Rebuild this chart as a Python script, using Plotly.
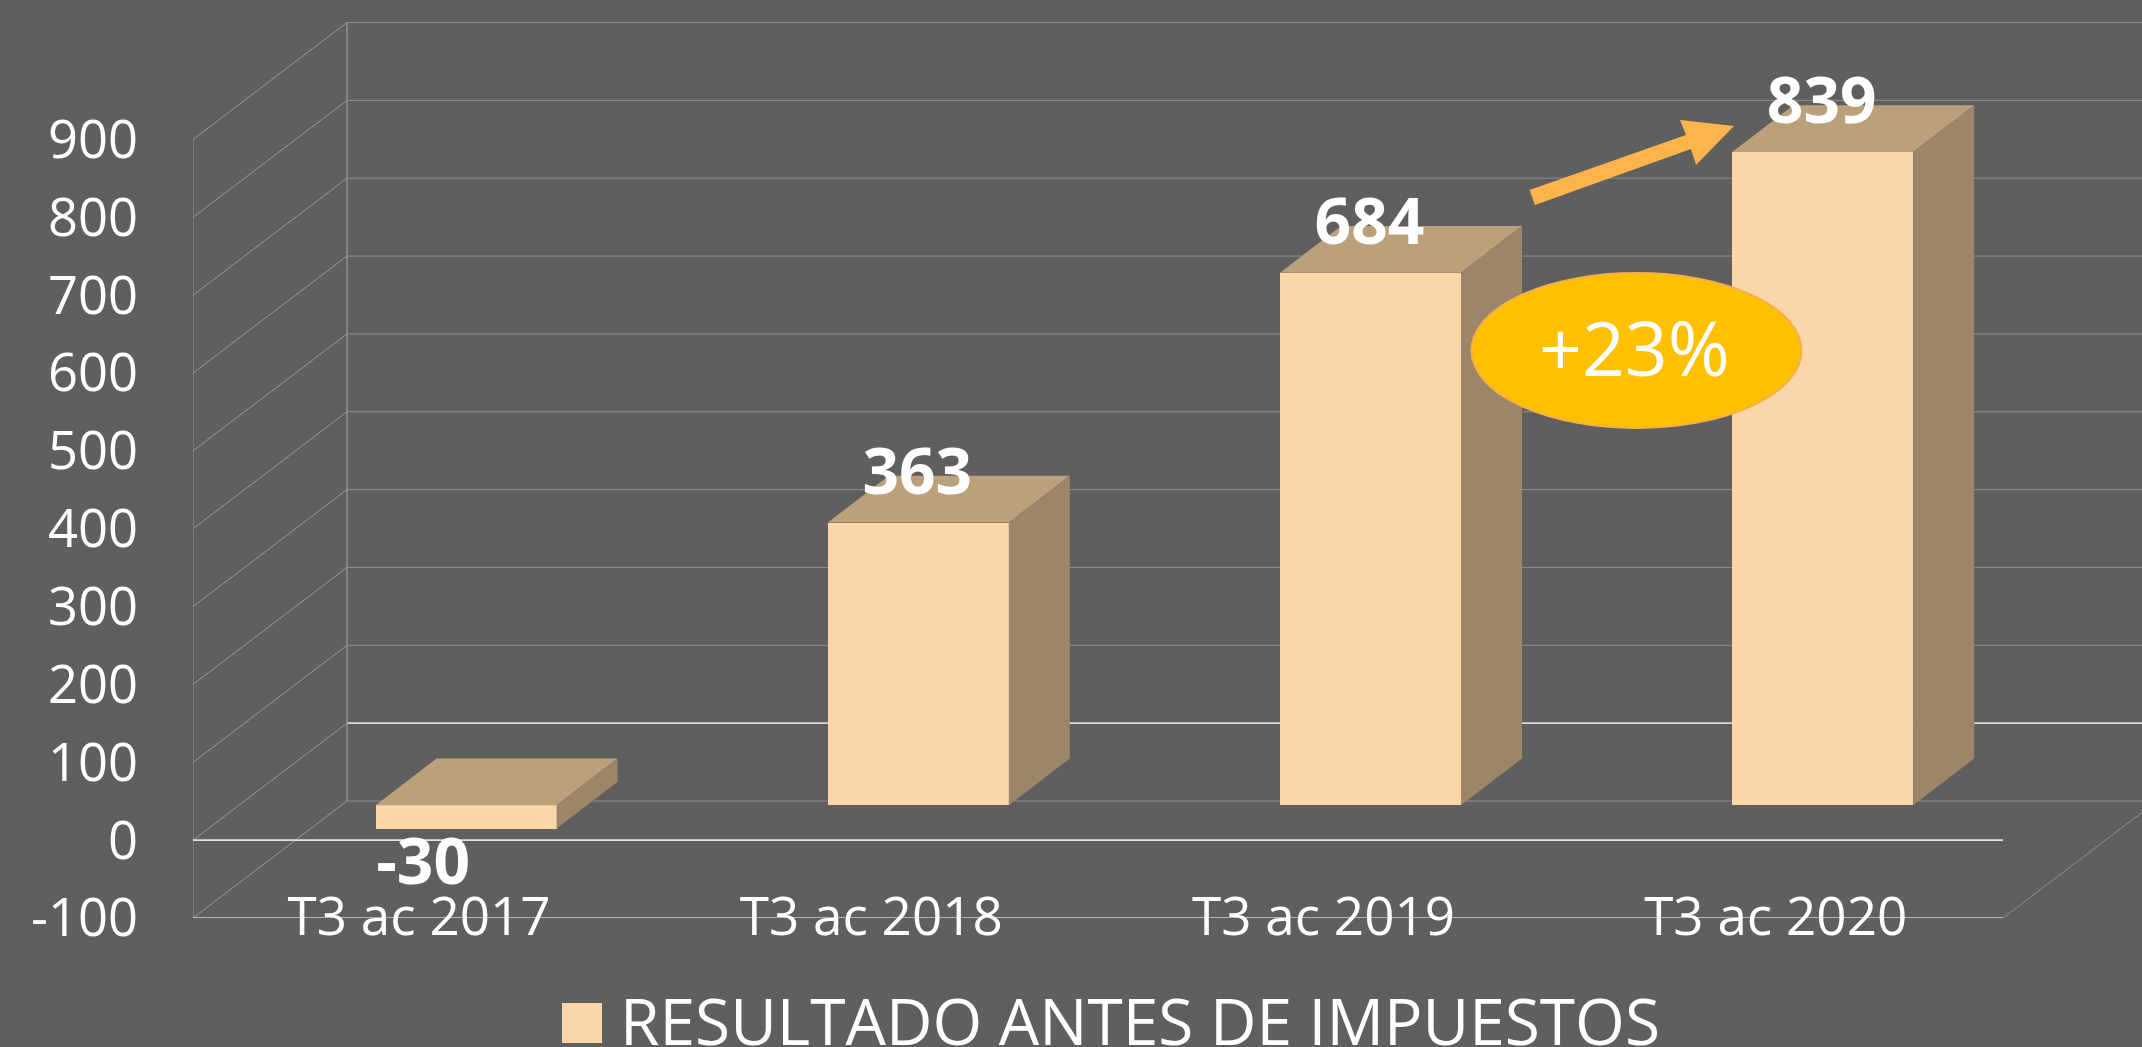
import plotly.graph_objects as go

categories = ["T3 ac 2017", "T3 ac 2018", "T3 ac 2019", "T3 ac 2020"]
values = [-30, 363, 684, 839]
y_ticks = [-100, 0, 100, 200, 300, 400, 500, 600, 700, 800, 900]
series_name = "RESULTADO ANTES DE IMPUESTOS"
growth_label = "+23%"

W, H = 2142, 1047
BG = "#5f5f5f"
FRONT, TOP, SIDE = "#fad6a9", "#bba07c", "#9d8668"
FONT = "Open Sans"
LIGHT = 400

# geometry of the pseudo-3D scene, in page pixels
PX_PER_CAT = 452.2
PX_PER_UNIT = 0.7785
WALL_X = 193.0
FLOOR_Y = 918.0
CAT0_X = WALL_X + PX_PER_CAT / 2
x_data = lambda px: (px - CAT0_X) / PX_PER_CAT
y_data = lambda py: -100 + (FLOOR_Y - py) / PX_PER_UNIT
dx_units = lambda px: px / PX_PER_CAT
dy_units = lambda px: px / PX_PER_UNIT
x_paper = lambda px: (px - WALL_X) / (W - WALL_X)
y_paper = lambda py: (FLOOR_Y - py) / FLOOR_Y

FRONT_RIGHT = x_data(2003)
WALL_DX, WALL_DY = dx_units(154), dy_units(117)
BAR_DX, BAR_BASE = dx_units(47), dy_units(35)
BAR_W = dx_units(181)
DEPTH_DX, DEPTH_DY = dx_units(61), dy_units(46.7)
xs = list(range(len(categories)))
left = x_data(WALL_X)

fig = go.Figure()


def line(x0, y0, x1, y1, color="#8b8b8b", width=1):
    fig.add_shape(type="line", x0=x0, y0=y0, x1=x1, y1=y1, layer="below",
                  line=dict(color=color, width=width))


# walls and gridlines
for t in y_ticks:
    bright = t == 0
    line(left + WALL_DX, t + WALL_DY, FRONT_RIGHT + WALL_DX, t + WALL_DY,
         "#d8d8d8" if bright else "#8f8f8f", 1.6 if bright else 1)
    line(left, t, left + WALL_DX, t + WALL_DY, "#9a9a9a", 1)
line(left, y_ticks[0], left, y_ticks[-1], "#8f8f8f", 1)
line(left + WALL_DX, y_ticks[0] + WALL_DY, left + WALL_DX, y_ticks[-1] + WALL_DY, "#8f8f8f", 1.5)
line(left, 0, FRONT_RIGHT, 0, "#e2e2e2", 1.6)
line(left, y_ticks[0], FRONT_RIGHT, y_ticks[0], "#cfcfcf", 1.4)
line(FRONT_RIGHT, y_ticks[0], FRONT_RIGHT + WALL_DX, y_ticks[0] + WALL_DY, "#8f8f8f", 1)

# front faces: real bars
fig.add_trace(go.Bar(x=[i + BAR_DX for i in xs], y=values, base=BAR_BASE, width=BAR_W,
                     name=series_name, marker=dict(color=FRONT, line=dict(width=0)),
                     hoverinfo="skip", showlegend=False))

# top and side faces derived from the values
tx, ty, sx, sy = [], [], [], []
for i, v in zip(xs, values):
    xl, xr = i + BAR_DX - BAR_W / 2, i + BAR_DX + BAR_W / 2
    hi, lo = BAR_BASE + max(v, 0), BAR_BASE + min(v, 0)
    tx += [xl, xl + DEPTH_DX, xr + DEPTH_DX, xr, xl, None]
    ty += [hi, hi + DEPTH_DY, hi + DEPTH_DY, hi, hi, None]
    sx += [xr, xr + DEPTH_DX, xr + DEPTH_DX, xr, xr, None]
    sy += [hi, hi + DEPTH_DY, lo + DEPTH_DY, lo, hi, None]
for px_, py_, col in ((tx, ty, TOP), (sx, sy, SIDE)):
    fig.add_trace(go.Scatter(x=px_, y=py_, mode="lines", fill="toself", fillcolor=col,
                             line=dict(width=0, color=col), hoverinfo="skip", showlegend=False))

# data labels
lab_x = [i + BAR_DX - dx_units(1) if v >= 0 else i + BAR_DX - dx_units(43) for i, v in zip(xs, values)]
lab_y = [BAR_BASE + v + dy_units(45) if v >= 0 else BAR_BASE + v - dy_units(39) for v in values]
fig.add_trace(go.Scatter(x=lab_x, y=lab_y, mode="text", text=[str(v) for v in values],
                         textposition="middle center",
                         textfont=dict(family=FONT, size=64, color="white", weight=700),
                         hoverinfo="skip", showlegend=False))

# arrow
pts = [(1529.5, 190), (1686, 135), (1680, 120), (1734, 126), (1696, 165), (1691, 149), (1535, 205)]
path = "M" + " L".join(f"{x_data(a):.4f},{y_data(b):.2f}" for a, b in pts) + " Z"
fig.add_shape(type="path", path=path, fillcolor="#fdb44b", line=dict(width=0), layer="above")

# ellipse
fig.add_shape(type="circle", x0=x_data(1471.5), x1=x_data(1801.5), y0=y_data(273), y1=y_data(428),
              fillcolor="#ffc000", line=dict(color="#f4b04a", width=2), layer="above")
fig.add_annotation(x=x_data(1634), y=y_data(347), text=growth_label, showarrow=False,
                   font=dict(family=FONT, size=75, color="white", weight=LIGHT))

# legend key and text
fig.add_shape(type="rect", xref="paper", yref="paper", x0=x_paper(562), x1=x_paper(602),
              y0=y_paper(1003), y1=y_paper(1043), fillcolor=FRONT, line=dict(width=0), layer="above")
fig.add_annotation(xref="paper", yref="paper", x=x_paper(618), y=y_paper(1020), text=series_name,
                   showarrow=False, xanchor="left", yanchor="middle",
                   font=dict(family=FONT, size=64, color="white", weight=LIGHT))

fig.update_layout(
    width=W, height=H, paper_bgcolor=BG, plot_bgcolor=BG, showlegend=False,
    margin=dict(l=int(WALL_X), r=0, t=0, b=int(H - FLOOR_Y), pad=0, autoexpand=False),
    bargap=0,
    xaxis=dict(range=[left, x_data(W)], tickmode="array", tickvals=xs, ticktext=categories,
               showgrid=False, zeroline=False, showline=False, ticks="", ticklabelstandoff=-37,
               tickfont=dict(family=FONT, size=53, color="white", weight=LIGHT), automargin=False),
    yaxis=dict(range=[y_ticks[0], y_data(0)], tickmode="array", tickvals=y_ticks,
               ticktext=[str(t) for t in y_ticks], showgrid=False, zeroline=False, showline=False,
               ticks="", ticklabelstandoff=54,
               tickfont=dict(family=FONT, size=52.5, color="white", weight=LIGHT), automargin=False),
)
fig.write_html("out.html", config={"displayModeBar": False},
               post_script="document.body.style.margin='0';")
